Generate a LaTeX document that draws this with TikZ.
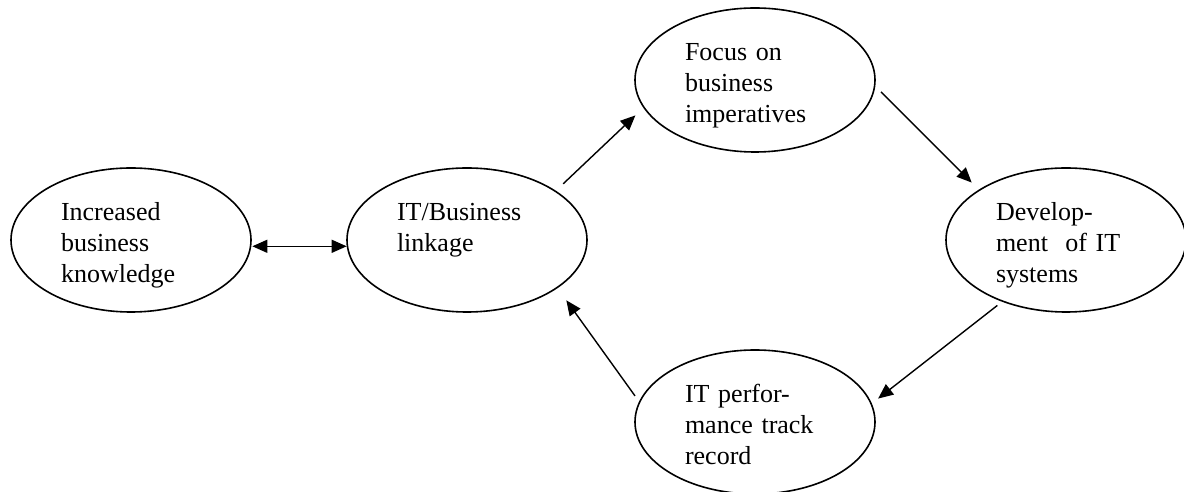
\documentclass[tikz,border=0pt]{standalone}
\usepackage{fontspec}
\setmainfont{Liberation Serif}
\usetikzlibrary{arrows.meta,shapes.geometric}

\begin{document}
\begin{tikzpicture}[x=1pt, y=1pt, ->, >={Triangle[length=15pt,width=13pt]}, line width=1.4pt]

    \tikzstyle{bubble}=[ellipse, draw=black, line width=1.6pt, minimum width=240pt, minimum height=144pt, inner sep=0pt,
                        text width=140pt, align=left, text height=19pt, text depth=57pt, font=\fontsize{26}{31}\selectfont]

    \useasboundingbox (0,0) rectangle (1184,492);

    \node[bubble] (know)  at (131,252)  {Increased\\business\\knowledge};
    \node[bubble] (link)  at (467,252)  {IT/Business\\linkage};
    \node[bubble] (focus) at (755,412)  {Focus on\\business\\imperatives};
    \node[bubble] (dev)   at (1066,252) {Develop-\\ment\ \ of IT\\systems};
    \node[bubble] (perf)  at (755,70)   {IT perfor-\\mance track\\record};

    \path (know.357) edge [<->, shorten <=1pt] (link.183)
          (link.29)  edge [shorten <=10pt, shorten >=11pt] (focus.194)
          (focus.357) edge [shorten <=8pt, shorten >=10pt] (dev.150)
          (dev.224)  edge [shorten <=6pt, shorten >=8pt] (perf.9)
          (perf.170) edge [shorten <=7pt, shorten >=15pt] (link.332)
    ;
\end{tikzpicture}
\end{document}
